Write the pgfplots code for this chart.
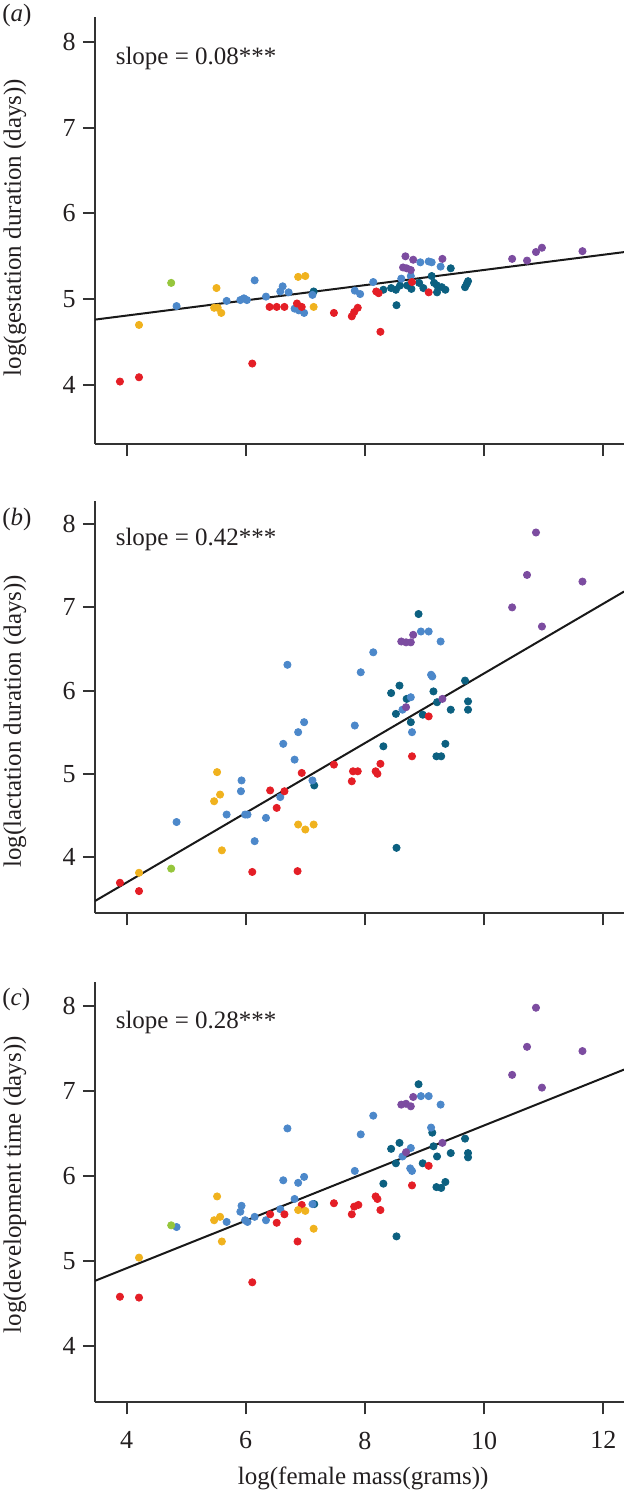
\documentclass[border=0pt]{standalone}
\usepackage{fontspec}
\setmainfont{Liberation Serif}
\usepackage{pgfplots}
\pgfplotsset{compat=1.18}
\definecolor{cRed}{RGB}{228,30,38}
\definecolor{cOrg}{RGB}{240,178,30}
\definecolor{cGrn}{RGB}{150,198,60}
\definecolor{cBlu}{RGB}{76,136,202}
\definecolor{cTea}{RGB}{12,96,128}
\definecolor{cPur}{RGB}{124,76,160}
\definecolor{txt}{RGB}{35,31,32}
\newcommand\lbl{\fontsize{12.5bp}{15bp}\selectfont}
\newcommand\tkl{\fontsize{13bp}{15bp}\selectfont}
\pgfplotsset{
 panel/.style={
  scale only axis, width=264.5bp,
  xmin=3.4715, xmax=12.347,
  axis x line*=bottom, axis y line*=left,
  axis line style={black!80, line width=1bp},
  xtick={4,6,8,10,12}, ytick={4,5,6,7,8},
  tick align=outside, major tick length=6bp,
  tick style={black!80, line width=1bp},
  /pgf/number format/assume math mode=true,
  tick label style={font=\tkl, text=txt},
  yticklabel style={inner sep=0pt}, yticklabel shift=3.5bp,
  xticklabel style={inner sep=0pt}, xticklabel shift=8.5bp,
  label style={font=\lbl, text=txt},
 },
 dots/.style={only marks, mark=*, mark size=1.8bp, color=#1, mark options={draw=none, fill=#1}},
 fit/.style={no marks, black!90, line width=1bp},
}
\begin{document}
\begin{tikzpicture}
\path[use as bounding box] (0,0) rectangle (312bp,-746.5bp);
% ---------------- (a) ----------------
\begin{axis}[panel, at={(47.5bp,-222bp)}, anchor=south west, height=213.65bp,
  ymin=3.312, ymax=8.293, xticklabels={},
  ylabel={log(gestation duration (days))},
  ylabel style={at={(axis description cs:-0.1512,0.5067)}, anchor=center}]
\addplot[fit] coordinates {(3.4715,4.762) (12.347,5.549)};
\addplot[dots=cTea] coordinates {(7.14,5.09) (8.31,5.11) (8.44,5.13) (8.52,5.11) (8.59,5.16) (8.53,4.93) (8.71,5.16) (8.78,5.12) (8.91,5.19) (8.98,5.13) (9.12,5.27) (9.16,5.19) (9.21,5.16) (9.21,5.08) (9.29,5.14) (9.35,5.11) (9.44,5.36) (9.68,5.14) (9.71,5.18) (9.73,5.21)};
\addplot[dots=cBlu] coordinates {(4.84,4.92) (5.68,4.98) (5.91,4.99) (5.97,5.01) (6.02,4.99) (6.15,5.22) (6.34,5.03) (6.58,5.09) (6.62,5.15) (6.72,5.08) (6.82,4.89) (6.89,4.87) (6.98,4.84) (7.12,5.05) (7.83,5.10) (7.92,5.06) (8.14,5.20) (8.61,5.24) (8.77,5.27) (8.93,5.43) (9.07,5.44) (9.12,5.43) (9.27,5.38)};
\addplot[dots=cRed] coordinates {(3.89,4.04) (4.21,4.09) (6.11,4.25) (6.40,4.91) (6.52,4.91) (6.65,4.91) (6.86,4.95) (6.94,4.91) (7.48,4.84) (7.78,4.80) (7.82,4.85) (7.88,4.90) (8.19,5.09) (8.23,5.07) (8.26,4.62) (8.79,5.20) (9.07,5.08)};
\addplot[dots=cOrg] coordinates {(4.21,4.70) (5.47,4.90) (5.53,4.90) (5.59,4.84) (5.51,5.13) (6.88,5.26) (7.00,5.27) (7.14,4.91)};
\addplot[dots=cGrn] coordinates {(4.75,5.19)};
\addplot[dots=cPur] coordinates {(8.64,5.37) (8.68,5.50) (8.70,5.36) (8.77,5.34) (8.81,5.46) (9.30,5.47) (10.47,5.47) (10.72,5.45) (10.87,5.55) (10.97,5.60) (11.65,5.56)};
\node[anchor=base west, inner sep=0pt, font=\lbl, text=txt] at (axis description cs:0.0386,0.887) {slope = 0.08***};
\end{axis}
% ---------------- (b) ----------------
\begin{axis}[panel, at={(47.5bp,-456.65bp)}, anchor=south west, height=206.3bp,
  ymin=3.323, ymax=8.282, xticklabels={},
  ylabel={log(lactation duration (days))},
  ylabel style={at={(axis description cs:-0.1512,0.4653)}, anchor=center}]
\addplot[fit] coordinates {(3.4715,3.471) (12.347,7.19)};
\addplot[dots=cTea] coordinates {(7.15,4.86) (8.31,5.33) (8.53,4.11) (8.44,5.97) (8.58,6.06) (8.52,5.72) (8.70,5.90) (8.77,5.62) (8.97,5.71) (8.90,6.92) (9.15,5.99) (9.21,5.86) (9.44,5.77) (9.35,5.36) (9.20,5.21) (9.28,5.21) (9.68,6.12) (9.73,5.87) (9.73,5.77)};
\addplot[dots=cBlu] coordinates {(4.84,4.42) (5.68,4.51) (5.93,4.92) (5.92,4.79) (5.99,4.51) (6.03,4.51) (6.15,4.19) (6.34,4.47) (6.58,4.72) (6.63,5.36) (6.70,6.31) (6.82,5.17) (6.88,5.50) (6.98,5.62) (7.12,4.92) (7.83,5.58) (7.93,6.22) (8.14,6.46) (8.63,5.77) (8.77,5.92) (8.79,5.50) (8.94,6.71) (9.07,6.71) (9.27,6.59) (9.11,6.19) (9.13,6.17)};
\addplot[dots=cRed] coordinates {(3.89,3.69) (4.21,3.59) (6.11,3.82) (6.41,4.80) (6.52,4.59) (6.65,4.79) (6.94,5.01) (6.87,3.83) (7.48,5.11) (7.78,4.91) (7.80,5.03) (7.88,5.03) (8.18,5.03) (8.21,5.00) (8.26,5.12) (8.79,5.21) (9.07,5.69)};
\addplot[dots=cOrg] coordinates {(4.21,3.81) (5.52,5.02) (5.57,4.75) (5.47,4.67) (5.60,4.08) (6.88,4.39) (7.00,4.33) (7.14,4.39)};
\addplot[dots=cGrn] coordinates {(4.75,3.86)};
\addplot[dots=cPur] coordinates {(8.61,6.59) (8.69,6.58) (8.77,6.58) (8.81,6.67) (8.69,5.80) (9.30,5.90) (10.47,7.00) (10.72,7.39) (10.87,7.90) (10.97,6.77) (11.65,7.31)};
\node[anchor=base west, inner sep=0pt, font=\lbl, text=txt] at (axis description cs:0.0386,0.8926) {slope = 0.42***};
\end{axis}
% ---------------- (c) ----------------
\begin{axis}[panel, at={(47.5bp,-701.15bp)}, anchor=south west, height=210bp,
  ymin=3.338, ymax=8.279,
  xlabel={log(female mass(grams))},
  xlabel style={at={(axis description cs:0.507,0)}, anchor=center, yshift=-38.2bp},
  ylabel={log(development time (days))},
  ylabel style={at={(axis description cs:-0.1512,0.518)}, anchor=center}]
\addplot[fit] coordinates {(3.4715,4.767) (12.347,7.252)};
\addplot[dots=cTea] coordinates {(7.15,5.67) (8.31,5.91) (8.53,5.29) (8.44,6.32) (8.58,6.39) (8.52,6.15) (8.97,6.15) (8.90,7.08) (9.13,6.51) (9.15,6.35) (9.21,6.23) (9.44,6.27) (9.35,5.93) (9.20,5.87) (9.28,5.86) (9.68,6.44) (9.73,6.27) (9.73,6.22)};
\addplot[dots=cBlu] coordinates {(4.84,5.40) (5.68,5.46) (5.93,5.65) (5.91,5.58) (5.99,5.48) (6.03,5.46) (6.15,5.52) (6.34,5.48) (6.58,5.61) (6.63,5.95) (6.70,6.56) (6.82,5.73) (6.88,5.92) (6.98,5.99) (7.12,5.67) (7.83,6.06) (7.93,6.49) (8.14,6.71) (8.63,6.23) (8.77,6.33) (8.76,6.09) (8.79,6.06) (8.94,6.94) (9.07,6.94) (9.27,6.84) (9.11,6.57)};
\addplot[dots=cRed] coordinates {(3.89,4.58) (4.21,4.57) (6.11,4.75) (6.41,5.55) (6.52,5.45) (6.65,5.55) (6.94,5.66) (6.87,5.23) (7.48,5.68) (7.78,5.55) (7.82,5.64) (7.89,5.66) (8.18,5.76) (8.21,5.73) (8.26,5.60) (8.79,5.89) (9.07,6.12)};
\addplot[dots=cOrg] coordinates {(4.21,5.04) (5.52,5.76) (5.47,5.48) (5.57,5.52) (5.60,5.23) (6.88,5.60) (7.00,5.59) (7.14,5.38)};
\addplot[dots=cGrn] coordinates {(4.75,5.42)};
\addplot[dots=cPur] coordinates {(8.61,6.84) (8.69,6.85) (8.77,6.82) (8.81,6.93) (8.69,6.28) (9.30,6.39) (10.47,7.19) (10.72,7.52) (10.87,7.98) (10.97,7.04) (11.65,7.47)};
\node[anchor=base west, inner sep=0pt, font=\lbl, text=txt] at (axis description cs:0.0386,0.891) {slope = 0.28***};
\end{axis}
\node[anchor=west, inner sep=0pt, font=\lbl, text=txt] at (1bp,-7.9bp) {(\textit{a})};
\node[anchor=west, inner sep=0pt, font=\lbl, text=txt] at (1bp,-259.5bp) {(\textit{b})};
\node[anchor=west, inner sep=0pt, font=\lbl, text=txt] at (1bp,-499.5bp) {(\textit{c})};
\end{tikzpicture}
\end{document}
